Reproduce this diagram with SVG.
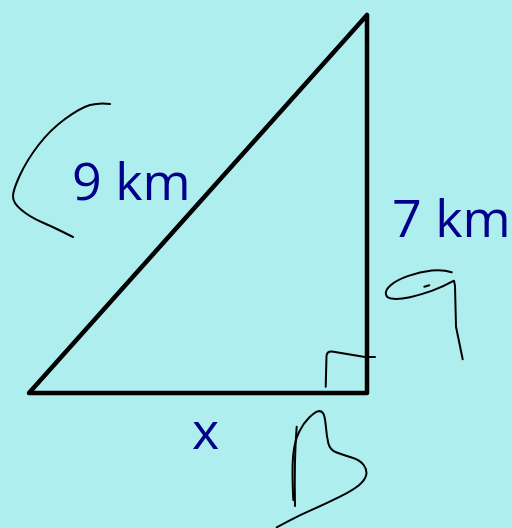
<svg xmlns="http://www.w3.org/2000/svg" width="512" height="528" viewBox="0 0 512 528">
<style>
.lbl{font-family:"Open Sans","Liberation Sans",sans-serif;font-size:52px;fill:#00008b}
.ink{fill:none;stroke:#000;stroke-width:2;stroke-linecap:round;stroke-linejoin:round}
</style>
<rect width="512" height="528" fill="#afeeee"/>
<polygon points="29,393 367,15 367,393" fill="none" stroke="#000" stroke-width="4.5" stroke-linejoin="round"/>
<text class="lbl" x="72" y="200">9 km</text>
<text class="lbl" x="392" y="237">7 km</text>
<text class="lbl" x="192" y="449">x</text>
<path class="ink" d="M110,104 Q100,102.5 90,105 Q80,108 65,119 Q50,130 38.5,145 Q27,160 20,175 Q13,190 13,196.5 Q13,203 21.5,210 Q30,217 41.5,222 Q53,227 63,232 L73,237"/>
<path class="ink" d="M325.7,386.7 L326.5,356 Q327,351 332,351.5 L365,357 L375,357"/>
<path class="ink" d="M451.7,272.3 Q443.3,269.3 431.7,270.5 Q420,271.7 408.4,275.9 Q396.7,280 390.9,285 Q385,290 385.9,294.2 Q386.7,298.3 393.4,298.8 Q400,299.3 410,297.2 Q420,295 431.7,290.9 Q443.3,286.7 454,280.7 L455,286 L456,326.7 L462.7,359.3"/>
<path class="ink" d="M424.3,286.7 L429.3,285.3"/>
<path class="ink" d="M296.7,426.7 Q294,460 295,506"/>
<path class="ink" d="M293.3,500 Q291.7,466.7 293.4,453.4 Q295,440 299.2,431.7 Q303.3,423.3 309.2,417.5 Q315,411.7 318.4,411.2 Q321.7,410.7 323.4,413.7 Q325,416.7 325.9,426.7 Q326.7,436.7 328.4,443.4 Q330,450 336.7,452.5 Q343.3,455 351.7,457.5 Q360,460 363.7,465 Q367.3,470 366.2,475 Q365,480 359.2,485 Q353.3,490 340,496.7 Q326.7,503.3 313.4,509.2 Q300,515 288.4,521.2 L276.7,527.3"/>
</svg>
